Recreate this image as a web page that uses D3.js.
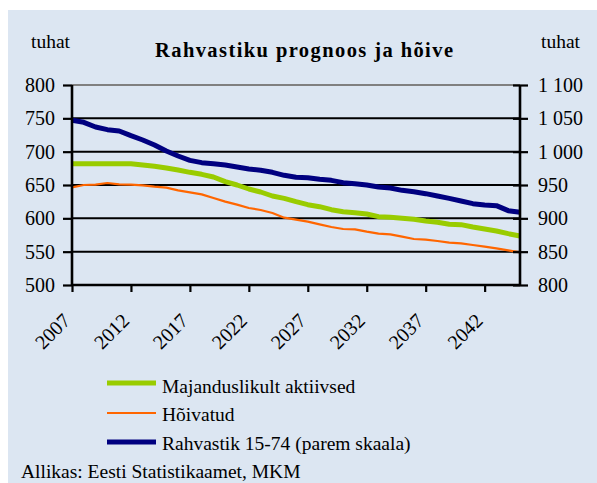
<!DOCTYPE html>
<html>
<head>
<meta charset="utf-8">
<script src="https://cdn.jsdelivr.net/npm/d3@7/dist/d3.min.js"></script>
<style>
  body { margin: 0; background: #ffffff; }
  text { font-family: "Liberation Serif", "DejaVu Serif", serif; fill: #000; }
</style>
</head>
<body>
<div id="chart"></div>
<script>
// donnees (tuhat = milliers)
var years = [2007, 2008, 2009, 2010, 2011, 2012, 2013, 2014, 2015, 2016,
             2017, 2018, 2019, 2020, 2021, 2022, 2023, 2024, 2025, 2026,
             2027, 2028, 2029, 2030, 2031, 2032, 2033, 2034, 2035, 2036,
             2037, 2038, 2039, 2040, 2041, 2042, 2043, 2044, 2045];

var tickYears = [2007, 2012, 2017, 2022, 2027, 2032, 2037, 2042];
var leftTicks = [500, 550, 600, 650, 700, 750, 800];
var rightTicks = [800, 850, 900, 950, 1000, 1050, 1100];

// Majanduslikult aktiivsed (vasak skaala)
var aktiivsed = [682, 682, 682, 682, 682, 682, 680, 678, 675.5, 672.5,
                 669, 666, 662, 655, 650, 644, 639.5, 633.5, 630, 625,
                 620.5, 617.5, 613, 610, 608.5, 606.5, 602.5, 601.5, 600, 598.5,
                 596, 594, 591, 590.5, 587, 584, 581, 577, 573.5];

// Hõivatud (vasak skaala)
var hoivatud = [646.5, 650, 650.5, 653, 651, 650.5, 649.5, 647.5, 646, 642,
                639, 636, 630.5, 625, 620.5, 615.5, 612.5, 608, 601, 598,
                595, 591, 587, 584, 583.5, 580, 577, 576, 572.5, 569,
                568, 566, 563.5, 562.5, 560, 557.5, 555, 552, 549];

// Rahvastik 15-74 (parem skaala)
var rahvastik = [1047, 1044, 1037, 1033, 1031, 1024, 1017.5, 1010, 1001, 993.5,
                 987, 983.5, 982, 980, 977, 974, 972, 969, 964.5, 961.5,
                 961, 958.5, 957, 953.5, 952, 950, 947, 945.5, 942, 940,
                 937, 933.5, 930, 926, 922, 920, 919, 911.5, 909];

var series = [
    {name: "Majanduslikult aktiivsed", values: aktiivsed, axis: "left", color: "#99cc00", width: 5},
    {name: "Hõivatud", values: hoivatud, axis: "left", color: "#ff6600", width: 2.2},
    {name: "Rahvastik 15-74 (parem skaala)", values: rahvastik, axis: "right", color: "#000080", width: 5}
];

var W = 597, H = 483;
var svg = d3.select('#chart').append('svg').attr('width', W).attr('height', H);

// fond bleu clair
svg.append('rect').attr('x', 8).attr('y', 10).attr('width', W - 8).attr('height', H - 10)
   .attr('fill', '#dce6f2');

var plotLeft = 72, plotRight = 520, plotTop = 85, plotBottom = 285;

var x = d3.scalePoint().domain(years).range([plotLeft, plotRight]);
var yL = d3.scaleLinear().domain([500, 800]).range([plotBottom, plotTop]);
var yR = d3.scaleLinear().domain([800, 1100]).range([plotBottom, plotTop]);

var fmt = d3.formatLocale({decimal: ",", thousands: " ", grouping: [3], currency: ["", ""]}).format(",");

// lignes de grille
svg.append('g').selectAll('line').data(leftTicks.filter(function(d){ return d > 500; }))
   .join('line')
   .attr('x1', plotLeft).attr('x2', plotRight)
   .attr('y1', function(d){ return yL(d); }).attr('y2', function(d){ return yL(d); })
   .attr('stroke', function(d){ return d == 800 ? '#808080' : '#000'; })
   .attr('stroke-width', 2);

// courbes
series.forEach(function(s){
    var yS = s.axis == "left" ? yL : yR;
    var line = d3.line()
        .x(function(d, i){ return x(years[i]); })
        .y(function(d){ return yS(d); });
    svg.append('path').datum(s.values)
       .attr('d', line)
       .attr('fill', 'none')
       .attr('stroke', s.color)
       .attr('stroke-width', s.width)
       .attr('stroke-linejoin', 'round');
});

// axe gauche
var gL = svg.append('g').attr('transform', 'translate(' + plotLeft + ',0)')
    .call(d3.axisLeft(yL).tickValues(leftTicks).tickSize(9).tickPadding(8).tickFormat(fmt));

// axe droit (graduations qui traversent l'axe)
var gR = svg.append('g').attr('transform', 'translate(' + plotRight + ',0)')
    .call(d3.axisRight(yR).tickValues(rightTicks).tickSize(8).tickPadding(10).tickFormat(fmt));
gR.selectAll('.tick line').attr('x1', -7);

// axe du bas
var gB = svg.append('g').attr('transform', 'translate(0,' + plotBottom + ')')
    .call(d3.axisBottom(x).tickValues(tickYears).tickSize(7));
gB.selectAll('.tick text')
    .attr('x', 0).attr('y', 0).attr('dy', 0)
    .attr('text-anchor', 'end')
    .attr('transform', 'translate(-1,37) rotate(-45)');

[gL, gR, gB].forEach(function(g){
    g.attr('font-family', null);
    g.select('.domain').attr('stroke', '#000').attr('stroke-width', 2.6);
    g.selectAll('.tick line').attr('stroke', '#000').attr('stroke-width', 2.2);
    g.selectAll('.tick text').attr('font-size', 20).attr('fill', '#000');
});
gL.select('.domain').attr('d', 'M0,' + plotTop + 'V' + plotBottom);
gR.select('.domain').attr('d', 'M0,' + plotTop + 'V' + plotBottom);
gB.select('.domain').attr('d', 'M' + plotLeft + ',0H' + plotRight);

// titres
svg.append('text').attr('x', 155).attr('y', 57)
   .attr('font-size', 20.5).attr('font-weight', 'bold')
   .attr('textLength', 298).attr('lengthAdjust', 'spacing')
   .text('Rahvastiku prognoos ja hõive');

svg.append('text').attr('x', 31).attr('y', 48).attr('font-size', 19.5).text('tuhat');
svg.append('text').attr('x', 541).attr('y', 48).attr('font-size', 19.5).text('tuhat');

// legende
var legY = [383, 413, 442];
var legText = [393, 421, 450];
var leg = svg.append('g');
series.forEach(function(s, i){
    leg.append('line')
       .attr('x1', 107).attr('x2', 156)
       .attr('y1', legY[i]).attr('y2', legY[i])
       .attr('stroke', s.color).attr('stroke-width', s.width);
    leg.append('text').attr('x', 162).attr('y', legText[i])
       .attr('font-size', 19.5).text(s.name);
});

// source
svg.append('text').attr('x', 21).attr('y', 478).attr('font-size', 19.5)
   .text('Allikas: Eesti Statistikaamet, MKM');
</script>
</body>
</html>
